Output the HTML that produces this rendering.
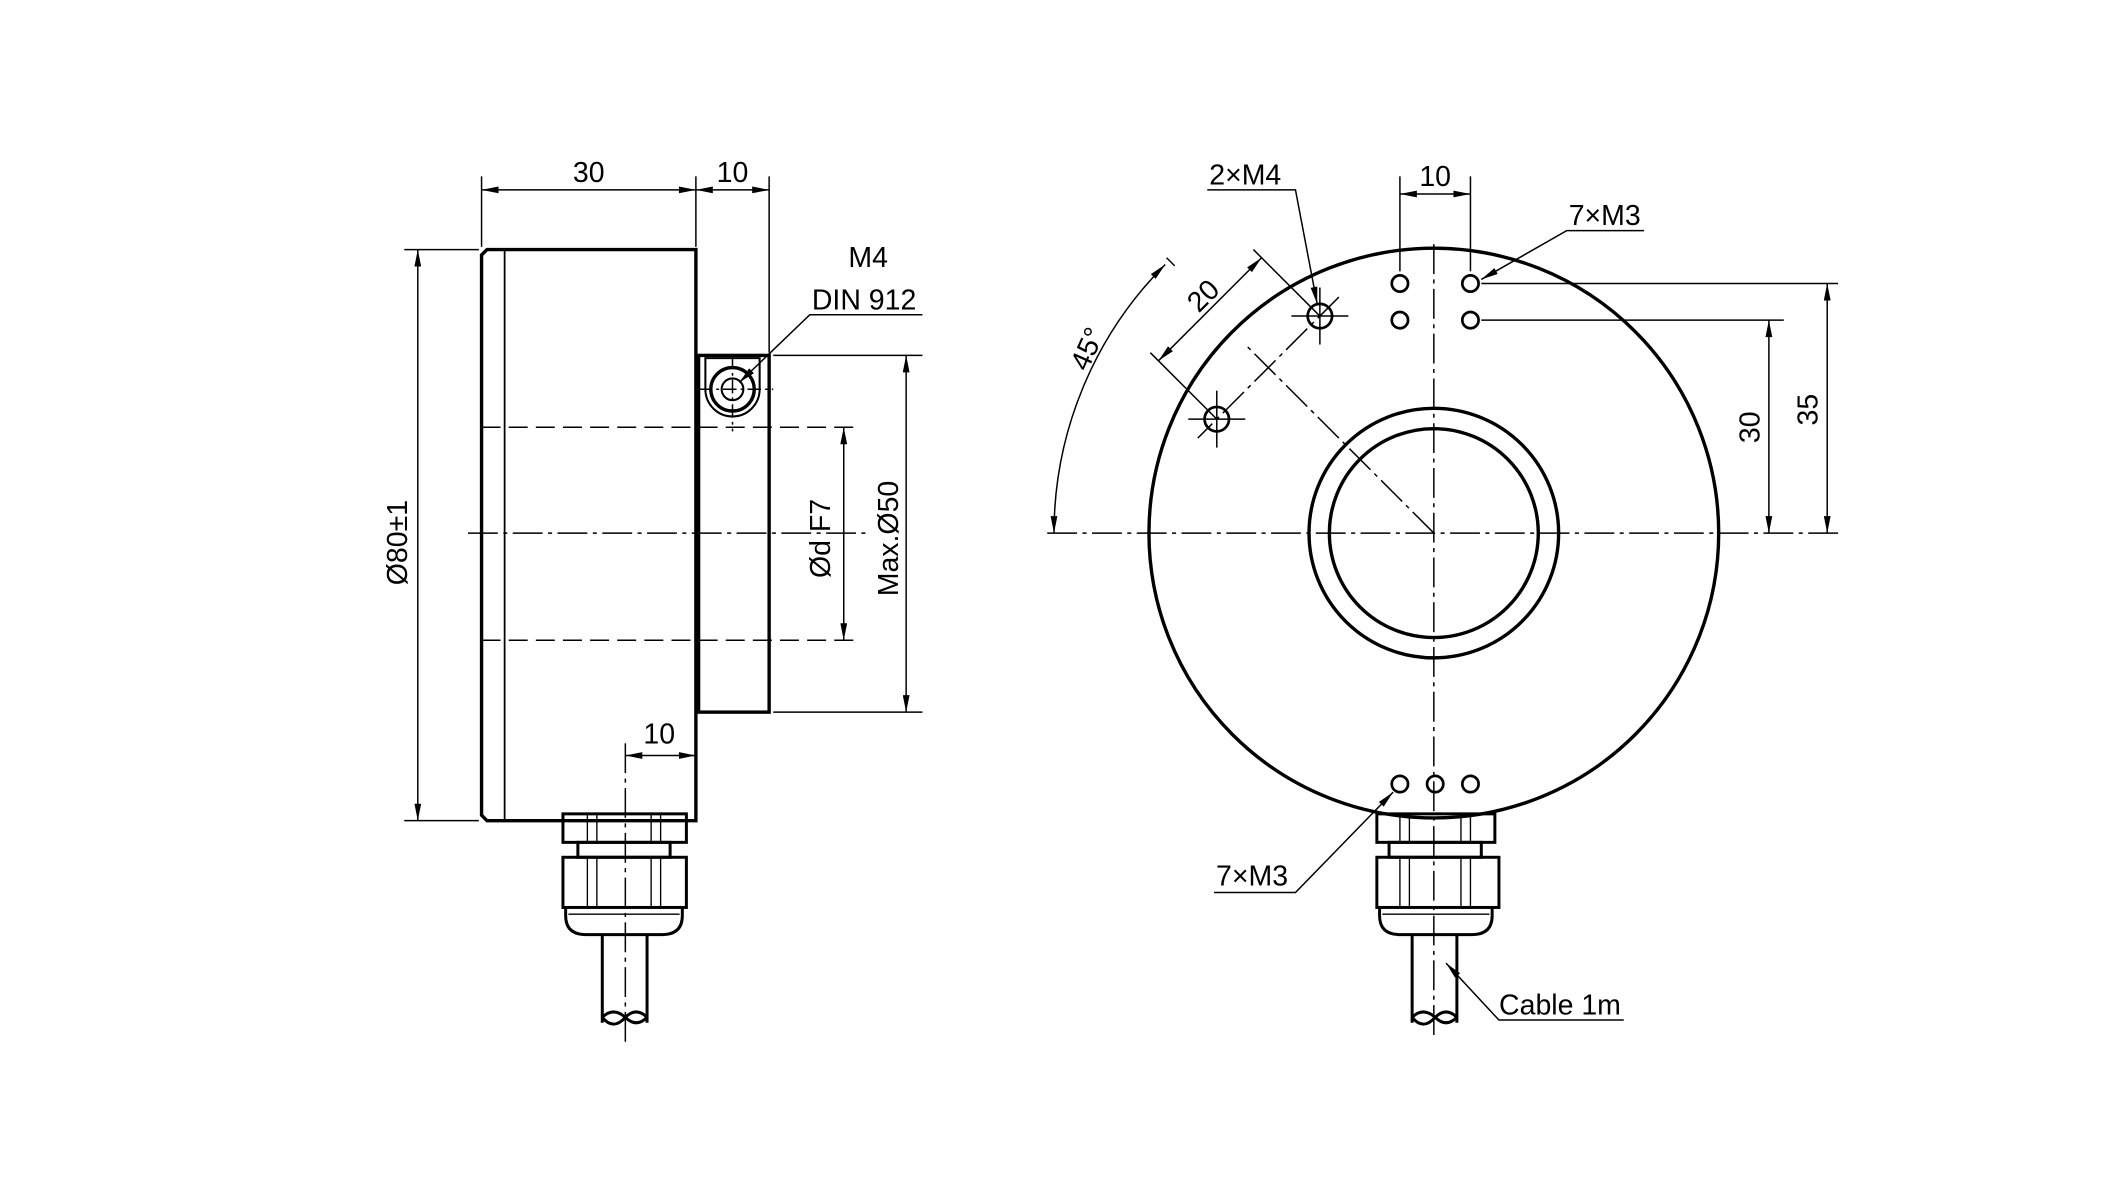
<!DOCTYPE html>
<html><head><meta charset="utf-8"><style>html,body{margin:0;padding:0;background:#fff}svg{display:block}</style></head><body>
<svg width="2127" height="1182" viewBox="0 0 1568 871.4" preserveAspectRatio="none" xmlns="http://www.w3.org/2000/svg" font-family="Liberation Sans Narrow, Liberation Sans, sans-serif" font-size="21">
<defs>
<marker id="a" viewBox="0 0 10 4" refX="10" refY="2" markerWidth="14" markerHeight="5" markerUnits="userSpaceOnUse" orient="auto-start-reverse"><path d="M0,0L10,2L0,4z" fill="#000"/></marker>
</defs>
<g fill="none" stroke="#000">
<path d="M359,184H513V605H359L355,601V188Z" stroke-width="2.5"/>
<line x1="372" y1="184" x2="372" y2="605" stroke-width="1.3"/>
<rect x="515" y="262" width="52" height="263" stroke-width="2.5"/>
<path d="M520,264V287A20,20 0 0 0 560,287V264Z" stroke-width="1.5"/>
<circle cx="540" cy="287" r="16" stroke-width="2.5"/>
<circle cx="540" cy="287" r="8" stroke-width="1.5"/>
<g stroke-width="1.1">
<line x1="540" y1="262" x2="540" y2="318" stroke-dasharray="10,3,2,3"/>
<line x1="515" y1="287" x2="570" y2="287" stroke-dasharray="10,3,2,3"/>
<line x1="355" y1="315" x2="630" y2="315" stroke-dasharray="14,6"/>
<line x1="355" y1="472" x2="630" y2="472" stroke-dasharray="14,6"/>
<line x1="345" y1="393" x2="640" y2="393" stroke-dasharray="22,4,3,4"/>
<line x1="461" y1="548" x2="461" y2="770" stroke-dasharray="22,4,3,4"/>
<line x1="355" y1="130" x2="355" y2="182"/><line x1="513" y1="130" x2="513" y2="182"/><line x1="567" y1="130" x2="567" y2="260"/>
<line x1="355" y1="140" x2="513" y2="140" marker-start="url(#a)" marker-end="url(#a)"/>
<line x1="513" y1="140" x2="567" y2="140" marker-start="url(#a)" marker-end="url(#a)"/>
<line x1="298" y1="184" x2="353" y2="184"/><line x1="298" y1="605" x2="353" y2="605"/>
<line x1="308" y1="184" x2="308" y2="605" marker-start="url(#a)" marker-end="url(#a)"/>
<line x1="570" y1="262" x2="680" y2="262"/><line x1="570" y1="525" x2="680" y2="525"/>
<line x1="668" y1="262" x2="668" y2="525" marker-start="url(#a)" marker-end="url(#a)"/>
<line x1="622" y1="315" x2="622" y2="472" marker-start="url(#a)" marker-end="url(#a)"/>
<line x1="461" y1="557" x2="513" y2="557" marker-start="url(#a)" marker-end="url(#a)"/>
<polyline points="680,232 597,232 545,282" marker-end="url(#a)"/>
</g>
<g stroke-width="2.2">
<rect x="415" y="600" width="91" height="21"/>
<rect x="426" y="621" width="68" height="11"/>
<rect x="415" y="632" width="91" height="37"/>
<path d="M417,669V675Q417,689 432,689H488Q503,689 503,675V669"/>
<path d="M444,689V754M477,689V754"/>
<path d="M444,750Q452,742 461,750Q469,758 477,750M444,750Q452,760 461,750Q469,742 477,750"/>
</g>
<g stroke-width="1"><path d="M433,600V621M440,600V621M480,600V621M487,600V621M433,632V669M440,632V669M480,632V669M487,632V669M419,674H501"/></g>

<circle cx="1057" cy="393" r="210" stroke-width="2.5"/>
<circle cx="1057" cy="393" r="92" stroke-width="2.5"/>
<circle cx="1057" cy="393" r="77" stroke-width="2.5"/>
<g stroke-width="2">
<circle cx="1032" cy="209" r="6"/><circle cx="1084" cy="209" r="6"/>
<circle cx="1032" cy="236" r="6"/><circle cx="1084" cy="236" r="6"/>
<circle cx="1032" cy="578" r="6"/><circle cx="1058" cy="578" r="6"/><circle cx="1084" cy="578" r="6"/>
<circle cx="973" cy="233" r="9"/><circle cx="897" cy="309" r="9"/>
</g>
<g stroke-width="1.1">
<line x1="772" y1="393" x2="1355" y2="393" stroke-dasharray="22,4,3,4"/>
<line x1="1057" y1="180" x2="1057" y2="765" stroke-dasharray="22,4,3,4"/>
<line x1="1057" y1="393" x2="918" y2="254" stroke-dasharray="22,4,3,4"/>
<line x1="987" y1="219" x2="883" y2="323" stroke-dasharray="22,4,3,4"/>
<line x1="973" y1="212" x2="973" y2="254"/><line x1="952" y1="233" x2="994" y2="233"/>
<line x1="897" y1="288" x2="897" y2="330"/><line x1="876" y1="309" x2="918" y2="309"/>
<line x1="1032" y1="130" x2="1032" y2="200"/><line x1="1084" y1="130" x2="1084" y2="200"/>
<line x1="1032" y1="143" x2="1084" y2="143" marker-start="url(#a)" marker-end="url(#a)"/>
<line x1="1092" y1="236" x2="1315" y2="236"/><line x1="1092" y1="209" x2="1355" y2="209"/>
<line x1="1304" y1="236" x2="1304" y2="393" marker-start="url(#a)" marker-end="url(#a)"/>
<line x1="1347" y1="209" x2="1347" y2="393" marker-start="url(#a)" marker-end="url(#a)"/>
<line x1="973" y1="233" x2="924" y2="184"/><line x1="897" y1="309" x2="848" y2="260"/>
<line x1="930" y1="190" x2="854" y2="266" marker-start="url(#a)" marker-end="url(#a)"/>
<line x1="860" y1="190" x2="866" y2="196"/>
<path d="M777,393A280,280 0 0 1 859,195" marker-start="url(#a)" marker-end="url(#a)"/>
<polyline points="890,140 955,140 971,224" marker-end="url(#a)"/>
<polyline points="1212,170 1155,170 1092,206" marker-end="url(#a)"/>
<polyline points="895,658 955,658 1027,584" marker-end="url(#a)"/>
<polyline points="1197,752 1105,752 1066,710" marker-end="url(#a)"/>
</g>
<g stroke-width="2.2">
<rect x="1015" y="600" width="87" height="21"/>
<rect x="1024" y="621" width="68" height="11"/>
<rect x="1015" y="632" width="90" height="37"/>
<path d="M1017,669V675Q1017,689 1032,689H1085Q1100,689 1100,675V669"/>
<path d="M1041,689V754M1074,689V754"/>
<path d="M1041,750Q1049,742 1058,750Q1066,758 1074,750M1041,750Q1049,760 1058,750Q1066,742 1074,750"/>
</g>
<g stroke-width="1"><path d="M1032,600V621M1039,600V621M1077,600V621M1084,600V621M1032,632V669M1039,632V669M1077,632V669M1084,632V669M1019,674H1098"/></g>
</g>
<g fill="#000">
<text x="434" y="134" text-anchor="middle">30</text>
<text x="540" y="134" text-anchor="middle">10</text>
<text x="486" y="548" text-anchor="middle">10</text>
<text x="640" y="197" text-anchor="middle">M4</text>
<text x="637" y="228" text-anchor="middle">DIN 912</text>
<text transform="translate(300,400) rotate(-90)" text-anchor="middle">Ø80±1</text>
<text transform="translate(612,397) rotate(-90)" text-anchor="middle">Ød F7</text>
<text transform="translate(662,397) rotate(-90)" text-anchor="middle">Max.Ø50</text>
<text x="918" y="136" text-anchor="middle">2×M4</text>
<text x="1058" y="137" text-anchor="middle">10</text>
<text x="1183" y="166" text-anchor="middle">7×M3</text>
<text x="923" y="653" text-anchor="middle">7×M3</text>
<text x="1150" y="748" text-anchor="middle">Cable 1m</text>
<text transform="translate(1297,315) rotate(-90)" text-anchor="middle">30</text>
<text transform="translate(1340,302) rotate(-90)" text-anchor="middle">35</text>
<text transform="translate(892,223) rotate(-45)" text-anchor="middle">20</text>
<text transform="translate(808,260) rotate(-66)" text-anchor="middle">45°</text>
</g>
</svg>
</body></html>
